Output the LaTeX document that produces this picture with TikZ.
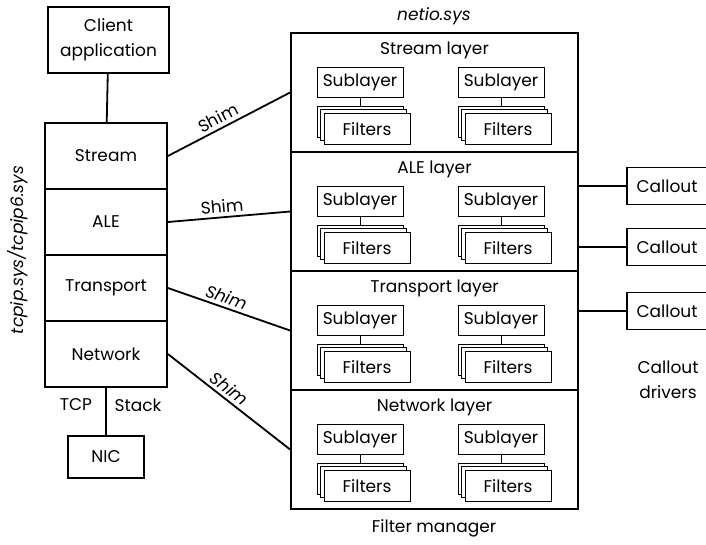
\documentclass[tikz,border=0pt]{standalone}
\usepackage{fontspec}
\setmainfont{Poppins}
\usetikzlibrary{positioning}

\tikzset{
  box/.style={draw, line width=1.8pt, align=center, inner sep=0pt},
  stackbox/.style={box, minimum width=122, minimum height=66},
  layerbox/.style={box, minimum width=287, minimum height=119},
  subbox/.style={draw, line width=0.8pt, fill=white, inner sep=0pt, minimum width=86, minimum height=30},
  filterbox/.style={subbox, minimum height=31},
  joint/.style={line width=0.8pt},
  link/.style={line width=1.8pt},
  shimlabel/.style={pos=0.45, above, sloped}
}

\begin{document}
\begin{tikzpicture}[x=1pt, y=-1pt, font=\fontsize{17}{25}\selectfont]
  \useasboundingbox (0,0) rectangle (706,544);

  % TCP/IP stack on the left
  \node[box, minimum width=121, minimum height=66] (client) at (108.5,40) {Client\\application};
  \node[stackbox] (stream) at (106,156) {Stream};
  \node[stackbox] (ale) at (106,222) {ALE};
  \node[stackbox] (transport) at (106,288) {Transport};
  \node[stackbox] (network) at (106,354) {Network};
  \node[box, minimum width=76, minimum height=42] (nic) at (106,457) {NIC};
  \draw[link] (client) -- (stream);
  \draw[link] (network) -- (nic);
  \node (tcp) at (76,405) {TCP};
  \node (stk) at (138,405) {Stack};
  \node[rotate=90, font=\fontsize{17}{25}\selectfont\itshape] (tcpip) at (18,250) {tcpip.sys/tcpip6.sys};

  % netio.sys layers with sublayers and filters
  \node[font=\fontsize{17}{25}\selectfont\itshape] (netio) at (434,16) {netio.sys};
  \foreach \name/\title/\y in {lstream/Stream/92.5, lale/ALE/211.5, ltransport/Transport/330.5, lnetwork/Network/449.5} {
    \node[layerbox] (\name) at (434.5,\y) {};
    \node[below=6pt of \name.north] (\name-t) {\title{} layer};
    \foreach \side/\x in {a/360, b/501} {
      \node[subbox] (\name-\side) at (\x,\y-10) {Sublayer};
      \node[filterbox] (\name-\side-1) at (\x,\y+29.25) {};
      \node[filterbox] (\name-\side-2) at (\x+3.5,\y+32.75) {};
      \node[filterbox] (\name-\side-3) at (\x+7,\y+36.25) {Filters};
      \draw[joint] (\name-\side) -- (\name-\side-1);
    }
  }
  \node (fm) at (434,528) {Filter manager};

  % shims between the stack and the layers
  \draw[link] (stream.east) -- node[shimlabel] {Shim} (lstream.west);
  \draw[link] (ale.east) -- node[shimlabel] {Shim} (lale.west);
  \draw[link] (transport.east) -- node[shimlabel, font=\fontsize{17}{25}\selectfont\itshape] {Shim} (ltransport.west);
  \draw[link] (network.east) -- node[shimlabel, font=\fontsize{17}{25}\selectfont\itshape] {Shim} (lnetwork.west);

  % callout drivers
  \node[box, minimum width=80, minimum height=37] (c1) at (667,186) {Callout};
  \node[box, minimum width=80, minimum height=37] (c2) at (667,247) {Callout};
  \node[box, minimum width=80, minimum height=37] (c3) at (667,311) {Callout};
  \draw[link] (c1.west) -- (c1.west -| lale.east);
  \draw[link] (c2.west) -- (c2.west -| lale.east);
  \draw[link] (c3.west) -- (c3.west -| ltransport.east);
  \node[align=center] (drv) at (668,380) {Callout\\drivers};
\end{tikzpicture}
\end{document}
